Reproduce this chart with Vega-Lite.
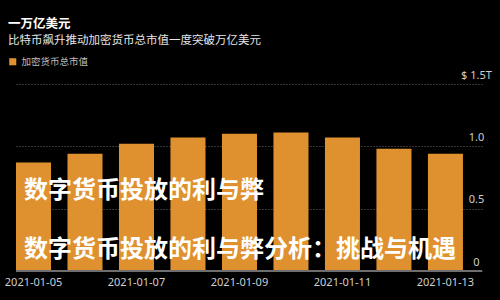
{
  "$schema": "https://vega.github.io/schema/vega-lite/v6.json",
  "width": 466,
  "height": 187,
  "autosize": {"type": "none"},
  "padding": {"left": 16, "top": 84, "right": 18, "bottom": 29},
  "background": "#000000",
  "config": {
    "view": {"stroke": null},
    "font": "Noto Sans CJK SC"
  },
  "title": {
    "text": "一万亿美元",
    "subtitle": "比特币飙升推动加密货币总市值一度突破万亿美元",
    "anchor": "start",
    "frame": "group",
    "dx": -8,
    "offset": 11,
    "color": "#ffffff",
    "fontSize": 12.5,
    "fontWeight": "bold",
    "subtitleColor": "#e6e6e6",
    "subtitleFontSize": 11.5,
    "subtitlePadding": 4,
    "font": "Noto Sans CJK SC",
    "subtitleFont": "Noto Sans CJK SC"
  },
  "datasets": {
    "bars": [
      {"date": "2021-01-05", "value": 0.87, "series": "加密货币总市值"},
      {"date": "2021-01-06", "value": 0.94, "series": "加密货币总市值"},
      {"date": "2021-01-07", "value": 1.02, "series": "加密货币总市值"},
      {"date": "2021-01-08", "value": 1.07, "series": "加密货币总市值"},
      {"date": "2021-01-09", "value": 1.10, "series": "加密货币总市值"},
      {"date": "2021-01-10", "value": 1.11, "series": "加密货币总市值"},
      {"date": "2021-01-11", "value": 1.07, "series": "加密货币总市值"},
      {"date": "2021-01-12", "value": 0.98, "series": "加密货币总市值"},
      {"date": "2021-01-13", "value": 0.94, "series": "加密货币总市值"}
    ],
    "overlay": [
      {"date": "2021-01-05", "value": 0.64, "label": "数字货币投放的利与弊"},
      {"date": "2021-01-05", "value": 0.17, "label": "数字货币投放的利与弊分析：挑战与机遇"}
    ]
  },
  "layer": [
    {
      "data": {"name": "bars"},
      "mark": {"type": "bar"},
      "encoding": {
        "x": {
          "field": "date",
          "type": "ordinal",
          "scale": {"paddingInner": 0.32, "paddingOuter": 0.185, "align": 0},
          "axis": {
            "title": null,
            "values": ["2021-01-05", "2021-01-07", "2021-01-09", "2021-01-11", "2021-01-13"],
            "labelAngle": 0,
            "labelColor": "#cfcfcf",
            "labelFontSize": 11,
            "labelFont": "Noto Sans",
            "labelPadding": 5,
            "ticks": false,
            "labelOverlap": false,
            "domain": false
          }
        },
        "y": {
          "field": "value",
          "type": "quantitative",
          "scale": {"domain": [0, 1.5], "nice": false},
          "axis": {
            "orient": "right",
            "title": null,
            "values": [0, 0.5, 1, 1.5],
            "labelExpr": "datum.value == 0 ? '0' : (datum.value == 1.5 ? '$ 1.5T' : format(datum.value, '.1f'))",
            "labelAlign": "center",
            "labelBaseline": "bottom",
            "labelPadding": -6,
            "labelOffset": -4,
            "labelColor": "#cfcfcf",
            "labelFontSize": 11,
            "labelFont": "Noto Sans",
            "ticks": false,
            "domain": false,
            "grid": true,
            "gridColor": "#6a6a6a",
            "gridDash": [1, 2],
            "gridWidth": 1
          }
        },
        "color": {
          "field": "series",
          "type": "nominal",
          "scale": {"range": ["#E0912F"]},
          "legend": {
            "title": null,
            "orient": "none",
            "legendX": -8,
            "legendY": -27,
            "symbolType": "square",
            "symbolSize": 50,
            "labelColor": "#bdbdbd",
            "labelFontSize": 9.5,
            "labelFont": "Noto Sans CJK SC"
          }
        }
      }
    },
    {
      "data": {"name": "bars"},
      "mark": {"type": "rule", "color": "#6e6e6e", "strokeWidth": 2},
      "encoding": {
        "y": {"datum": 0, "type": "quantitative"}
      }
    },
    {
      "data": {"name": "overlay"},
      "mark": {
        "type": "text",
        "align": "left",
        "baseline": "middle",
        "dx": 8,
        "fontSize": 24,
        "fontWeight": "bold",
        "font": "Noto Sans CJK SC",
        "color": "#ffffff"
      },
      "encoding": {
        "x": {"field": "date", "type": "ordinal", "bandPosition": 0},
        "y": {"field": "value", "type": "quantitative"},
        "text": {"field": "label"}
      }
    }
  ]
}
